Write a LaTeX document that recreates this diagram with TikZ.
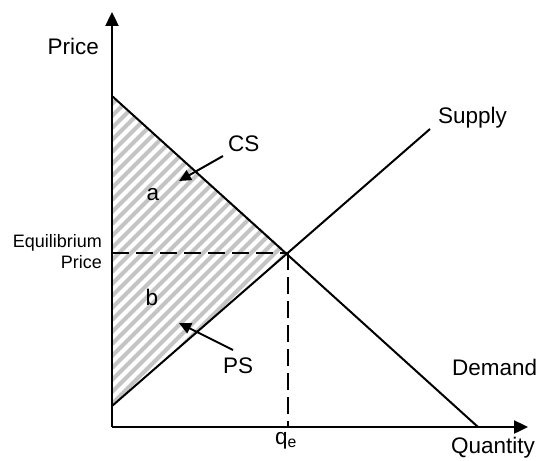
\documentclass[tikz,border=0pt]{standalone}
\usepackage{fontspec}
\setmainfont{Liberation Sans}
\usetikzlibrary{arrows.meta}
\definecolor{hatchgray}{HTML}{C4C4C4}
\tikzset{
  lbl/.style={inner sep=0pt, font=\fontsize{22.5}{27}\selectfont},
  small/.style={inner sep=0pt, font=\fontsize{18}{21}\selectfont},
  axis/.style={line width=2.4pt, -{Triangle[length=14pt,width=13pt]}},
  curve/.style={line width=2pt},
  guide/.style={line width=2pt, dash pattern=on 17pt off 7pt},
  pointer/.style={line width=2pt, -{Triangle[length=12pt,width=11pt]}},
  hatch/.style={hatchgray, line width=4pt}
}
\begin{document}
\begin{tikzpicture}[x=1pt,y=-1pt]
\useasboundingbox (0,0) rectangle (540,460);
% key points
\coordinate (O) at (112,427);
\coordinate (ytop) at (112,12);
\coordinate (xend) at (528,427);
\coordinate (D0) at (112,96);
\coordinate (D1) at (478,427);
\coordinate (S0) at (112,406);
\coordinate (S1) at (430,129);
\coordinate (E) at (288,253);
\coordinate (Ey) at (112,253);
\coordinate (Ex) at (288,427);
% hatched regions
\begin{scope}
  \clip (D0) -- (E) -- (S0) -- cycle;
  \foreach \c in {-400,-388,...,300} {
    \draw[hatch] (\c,460) -- (\c+500,-40);
  }
\end{scope}
% guides
\draw[guide] (Ey) -- (E);
\draw[guide] (E) -- (Ex);
% curves
\draw[curve] (D0) -- (D1);
\draw[curve] (S0) -- (S1);
% axes
\draw[axis] (O) -- (ytop);
\draw[axis] (O) -- (xend);
% labels
\node[lbl, anchor=base east] (price) at (99,55) {Price};
\node[lbl, anchor=base east] (qty) at (535,453) {Quantity};
\node[lbl, anchor=base west] (supply) at (438,123) {Supply};
\node[lbl, anchor=base west] (demand) at (452,375) {Demand};
\node[small, anchor=base east] (eq1) at (102,247) {Equilibrium};
\node[small, anchor=base east] (eq2) at (102,268) {Price};
\node[lbl, anchor=base west] (qe) at (275,444) {q\textsubscript{e}};
\node[lbl, anchor=base west] (cs) at (228,151) {CS};
\node[lbl, anchor=base west] (ps) at (223,373) {PS};
\node[lbl, anchor=base] (a) at (153,200) {a};
\node[lbl, anchor=base] (b) at (152,305) {b};
% pointers
\coordinate (cstail) at (223,156);
\coordinate (cstip) at (179,181);
\coordinate (pstail) at (233,350);
\coordinate (pstip) at (179,323);
\draw[pointer] (cstail) -- (cstip);
\draw[pointer] (pstail) -- (pstip);
\end{tikzpicture}
\end{document}
